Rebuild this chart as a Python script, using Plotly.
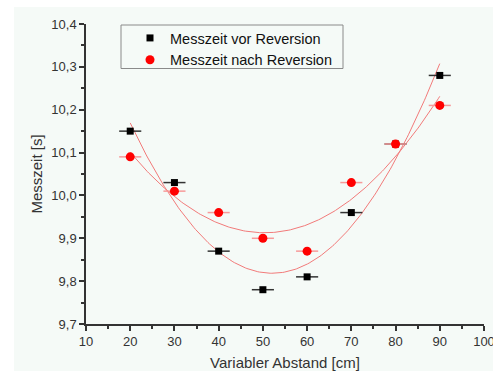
import numpy as np
import plotly.graph_objects as go

abstand = [20, 30, 40, 50, 60, 70, 80, 90]
vor = [10.15, 10.03, 9.87, 9.78, 9.81, 9.96, 10.12, 10.28]
nach = [10.09, 10.01, 9.96, 9.90, 9.87, 10.03, 10.12, 10.21]
x_err = [2.5] * 8
x_ticks = [10, 20, 30, 40, 50, 60, 70, 80, 90, 100]
y_ticks = [9.7, 9.8, 9.9, 10.0, 10.1, 10.2, 10.3, 10.4]

xf = np.linspace(min(abstand), max(abstand), 200)
fit_vor = np.polyval(np.polyfit(abstand, vor, 2), xf)
fit_nach = np.polyval(np.polyfit(abstand, nach, 2), xf)

fig = go.Figure()
fig.add_trace(go.Scatter(x=xf, y=fit_vor, mode="lines", line=dict(color="#f27a7a", width=1),
                         showlegend=False, hoverinfo="skip"))
fig.add_trace(go.Scatter(x=xf, y=fit_nach, mode="lines", line=dict(color="#f27a7a", width=1),
                         showlegend=False, hoverinfo="skip"))
fig.add_trace(go.Scatter(x=abstand, y=vor, mode="markers", name="Messzeit vor Reversion",
                         marker=dict(symbol="square", size=7, color="black"),
                         error_x=dict(type="data", array=x_err, color="#333333", thickness=1.5, width=0)))
fig.add_trace(go.Scatter(x=abstand, y=nach, mode="markers", name="Messzeit nach Reversion",
                         marker=dict(symbol="circle", size=9, color="#ff0000"),
                         error_x=dict(type="data", array=x_err, color="#f79a9a", thickness=1.5, width=0)))

W, H = 493, 371
ml, mr, mt, mb = 86, 9, 24, 47
pw, ph = W - ml - mr, H - mt - mb
bg = "#f5faf7"


def px_x(p):
    return (p - ml) / pw


def px_y(p):
    return 1 - (p - mt) / ph


axis_common = dict(showline=True, linecolor="#333333", linewidth=1.5, ticks="outside",
                   ticklen=5, tickwidth=1.5, tickcolor="#333333", showgrid=False, zeroline=False,
                   tickfont=dict(family="Liberation Sans, Arial", size=13, color="#333333"),
                   mirror=False, automargin=False, ticklabeloverflow="allow")

fig.update_layout(
    width=W, height=H,
    margin=dict(l=ml, r=mr, t=mt, b=mb, autoexpand=False),
    paper_bgcolor=bg, plot_bgcolor=bg,
    separators=", ",
    font=dict(family="Liberation Sans, Arial", color="#333333"),
    xaxis=dict(range=[10, 100], tickvals=x_ticks, tickformat="d",
               minor=dict(dtick=5, ticks="outside", ticklen=3, tickwidth=1.5, tickcolor="#333333"),
               title=dict(text="Variabler Abstand [cm]", font=dict(size=15, color="#333333"), standoff=9),
               **axis_common),
    yaxis=dict(range=[9.7, 10.4], tickvals=y_ticks, tickformat=".1f",
               minor=dict(dtick=0.05, ticks="outside", ticklen=3, tickwidth=1.5, tickcolor="#333333"),
               title=dict(text="Messzeit [s]", font=dict(size=15, color="#333333"), standoff=5),
               **axis_common),
    legend=dict(x=px_x(130), y=px_y(22), xanchor="left", yanchor="top",
                bgcolor="rgba(0,0,0,0)", borderwidth=0,
                font=dict(size=14.5, color="#111111"), itemwidth=30, tracegroupgap=0),
    shapes=[
        dict(type="rect", xref="paper", yref="paper", x0=-ml / pw - 0.01, x1=(W - ml) / pw + 0.01,
             y0=px_y(7), y1=px_y(0) + 0.01, fillcolor="white", line_width=0, layer="below"),
        dict(type="rect", xref="paper", yref="paper", x0=-ml / pw - 0.01, x1=px_x(14),
             y0=-mb / ph - 0.01, y1=px_y(0) + 0.01, fillcolor="white", line_width=0, layer="below"),
        dict(type="rect", xref="paper", yref="paper", x0=px_x(121), x1=px_x(343),
             y0=px_y(68.5), y1=px_y(25), fillcolor=bg, line=dict(color="#8a8a8a", width=1),
             layer="above"),
    ],
    showlegend=True,
)

fig.write_html("out.html", config={"displayModeBar": False},
               post_script="document.body.style.margin='0';document.body.style.overflow='hidden';")
